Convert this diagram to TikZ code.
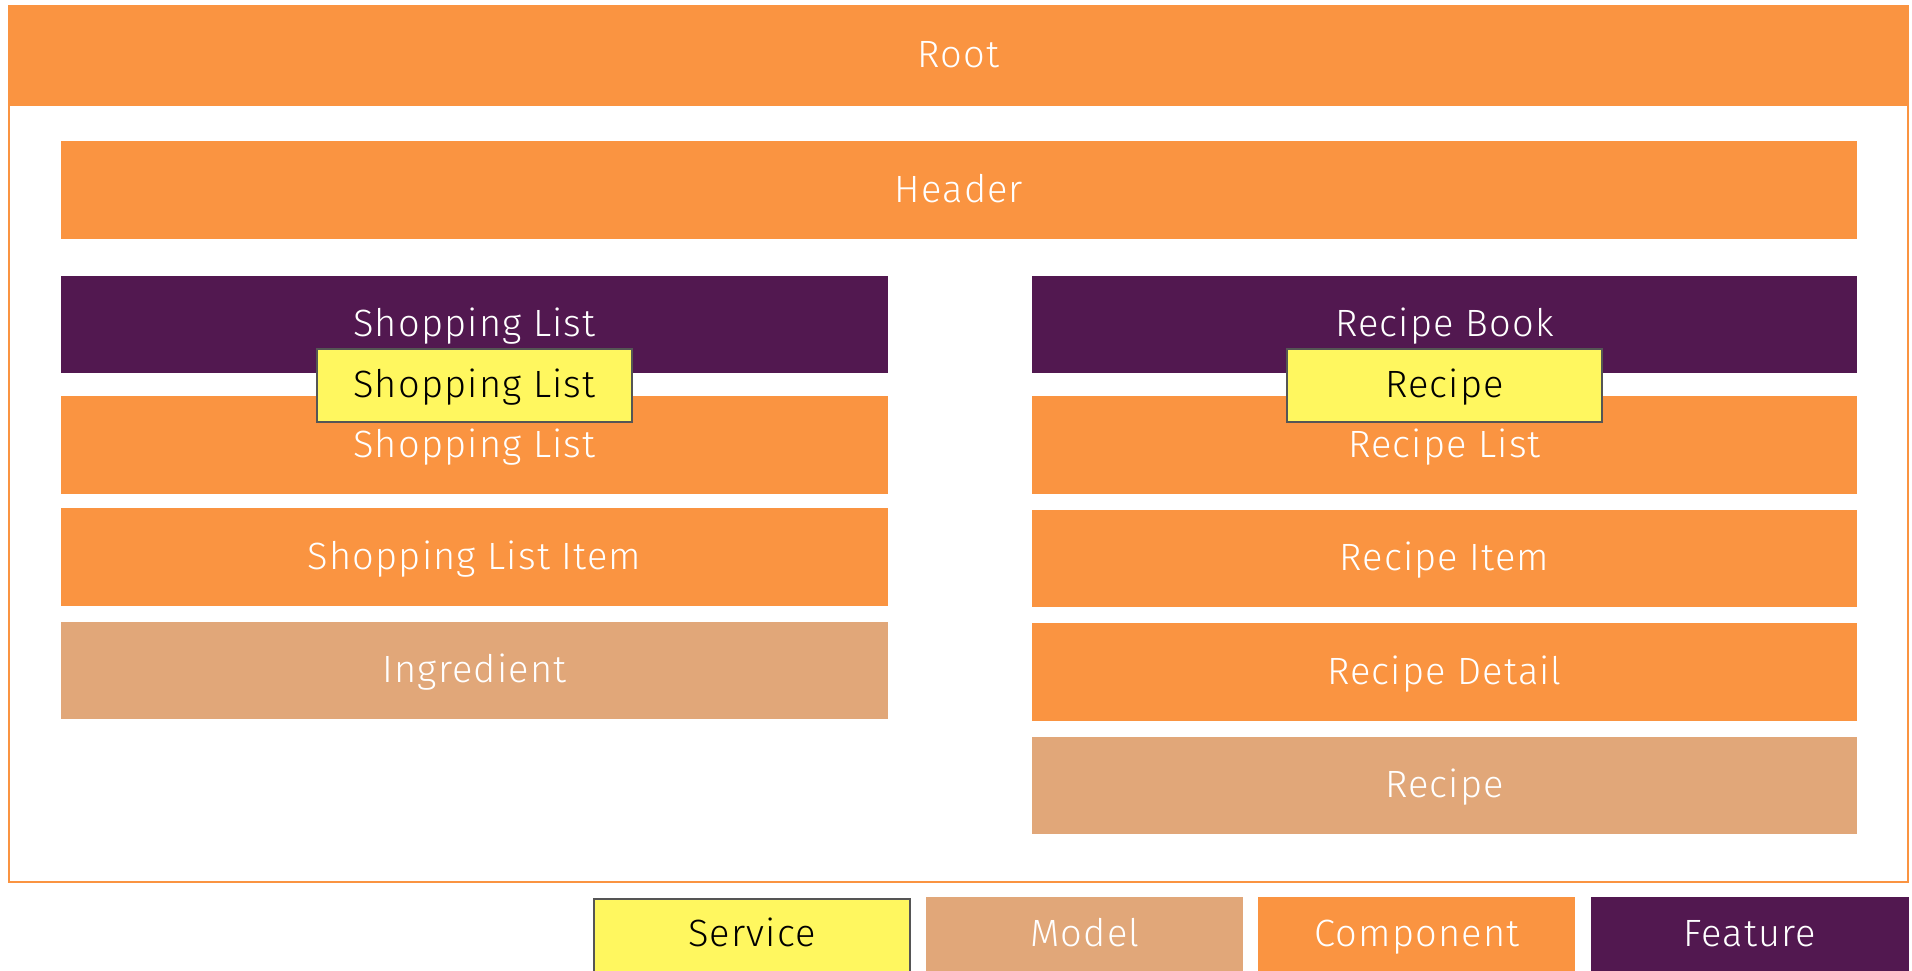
\documentclass[tikz,border=0pt]{standalone}
\usepackage{fontspec}
\setmainfont{Fira Sans}[UprightFont={* Light}, LetterSpace=3]
\definecolor{corange}{HTML}{FA9441}
\definecolor{cpurple}{HTML}{521850}
\definecolor{ctan}{HTML}{E1A779}
\definecolor{cyellow}{HTML}{FFF75F}
\definecolor{cgray}{HTML}{555555}
\tikzset{
  lbl/.style={inner sep=0pt, outer sep=0pt, font=\fontsize{38}{42}\selectfont, text height=27pt, text depth=3pt},
  box/.style={lbl, rectangle, anchor=north west},
  comp/.style={box, fill=corange, text=white},
  feat/.style={box, fill=cpurple, text=white},
  model/.style={box, fill=ctan, text=white},
  serv/.style={box, fill=cyellow, text=black, draw=cgray, line width=2pt},
}
\newcommand{\bx}[7]{\node[#1, minimum width=#5-#3, minimum height=#6-#4] (#2) at (#3,#4) {#7};}
\begin{document}
\begin{tikzpicture}[x=1pt,y=-1pt]
\useasboundingbox (0,0) rectangle (1912,971);
\fill[white] (0,0) rectangle (1912,971);
\draw[corange, line width=2pt] (9,6) rectangle (1908,882);
\bx{comp}{root}{8}{6}{1909}{106}{Root}
\bx{comp}{header}{61}{141}{1857}{239}{Header}
% left column
\bx{feat}{slf}{61}{276}{888}{373}{Shopping List}
\bx{comp}{slc}{61}{396}{888}{494}{Shopping List}
\bx{comp}{sli}{61}{508}{888}{606}{Shopping List Item}
\bx{model}{ing}{61}{622}{888}{719}{Ingredient}
% right column
\bx{feat}{rb}{1032}{276}{1857}{373}{Recipe Book}
\bx{comp}{rl}{1032}{396}{1857}{494}{Recipe List}
\bx{comp}{ri}{1032}{510}{1857}{607}{Recipe Item}
\bx{comp}{rd}{1032}{623}{1857}{721}{Recipe Detail}
\bx{model}{rm}{1032}{737}{1857}{834}{Recipe}
% services
\bx{serv}{sls}{317}{349}{632}{422}{Shopping List}
\bx{serv}{rs}{1287}{349}{1602}{422}{Recipe}
% legend
\bx{serv}{lserv}{594}{899}{910}{1060}{}
\node[lbl] (lservt) at (752,934) {Service};
\bx{model}{lmodel}{926}{897}{1243}{1060}{}
\node[lbl, text=white] (lmodelt) at (1085,934) {Model};
\bx{comp}{lcomp}{1258}{897}{1575}{1060}{}
\node[lbl, text=white] (lcompt) at (1417,934) {Component};
\bx{feat}{lfeat}{1591}{897}{1909}{1060}{}
\node[lbl, text=white] (lfeatt) at (1750,934) {Feature};
\end{tikzpicture}
\end{document}
